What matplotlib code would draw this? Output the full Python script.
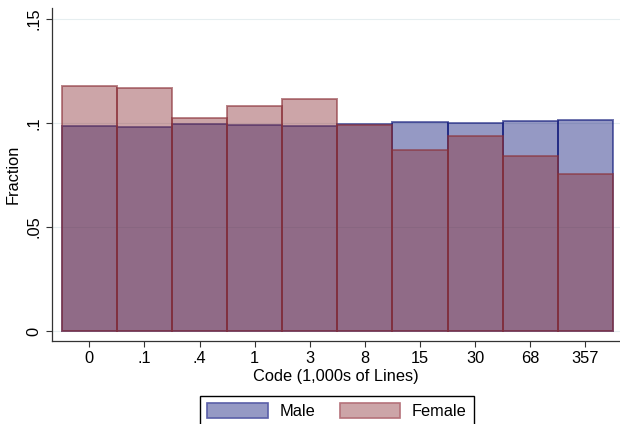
import matplotlib
matplotlib.use("Agg")
import matplotlib.pyplot as plt
from matplotlib.patches import Patch
import numpy as np

plt.rcParams['font.family'] = ['Liberation Sans', 'DejaVu Sans']

# bins of code size (1,000s of lines)
labels = ['0', '.1', '.4', '1', '3', '8', '15', '30', '68', '357']
male = [0.0984, 0.0982, 0.0997, 0.0992, 0.0987, 0.0995, 0.1006, 0.1001, 0.1008, 0.1016]
female = [0.1179, 0.1170, 0.1025, 0.1080, 0.1115, 0.0989, 0.0869, 0.0939, 0.0843, 0.0755]

a = 0.44
male_rgb = (14/255, 23/255, 121/255)
fem_rgb = (139/255, 50/255, 57/255)

W, H = 620, 424
fig = plt.figure(figsize=(W/100, H/100), dpi=100)
ax = fig.add_axes([52/W, 1-341/H, (620-52)/W, (341-8)/H])

x = np.arange(len(labels))
ax.bar(x, male, width=1.0, color=male_rgb + (a,), edgecolor=male_rgb + (0.6,),
       linewidth=1.4, zorder=2)
ax.bar(x, female, width=1.0, color=fem_rgb + (a,), edgecolor=fem_rgb + (0.6,),
       linewidth=1.4, zorder=3)

ax.set_xlim(-0.677, 9.63)
ax.set_ylim(-0.0048, 0.1553)
ax.set_yticks([0, 0.05, 0.1, 0.15])
ax.set_yticklabels(['0', '.05', '.1', '.15'], rotation=90, va='center')
ax.set_xticks(x)
ax.set_xticklabels(labels)
ax.yaxis.grid(True, color='#e6eef0', linewidth=0.8, zorder=0)
ax.set_axisbelow(True)

for s in ['top', 'right']:
    ax.spines[s].set_visible(False)
for s in ['left', 'bottom']:
    ax.spines[s].set_color('#333333')
    ax.spines[s].set_linewidth(0.9)
ax.tick_params(axis='both', direction='out', length=4.5, width=0.8,
               color='#333333', labelsize=11.8, pad=3)

ax.set_xlabel('Code (1,000s of Lines)', fontsize=11.8, labelpad=2)
ax.set_ylabel('Fraction', fontsize=11.8, labelpad=4)

handles = [Patch(facecolor='#9599c4', edgecolor='#5a5fa8', linewidth=1.2, label='Male'),
           Patch(facecolor='#cca5a8', edgecolor='#b5727a', linewidth=1.2, label='Female')]
leg = fig.legend(handles=handles, loc='upper center', bbox_to_anchor=(337/W, 1-395.7/H),
                 ncol=2, fontsize=11.8, frameon=True, fancybox=False,
                 edgecolor='black', framealpha=1, handlelength=3.7, handleheight=1.0,
                 handletextpad=0.7, columnspacing=1.5, borderpad=0.45, borderaxespad=0)
leg.get_frame().set_linewidth(1.0)

fig.savefig('out.png', dpi=100)
